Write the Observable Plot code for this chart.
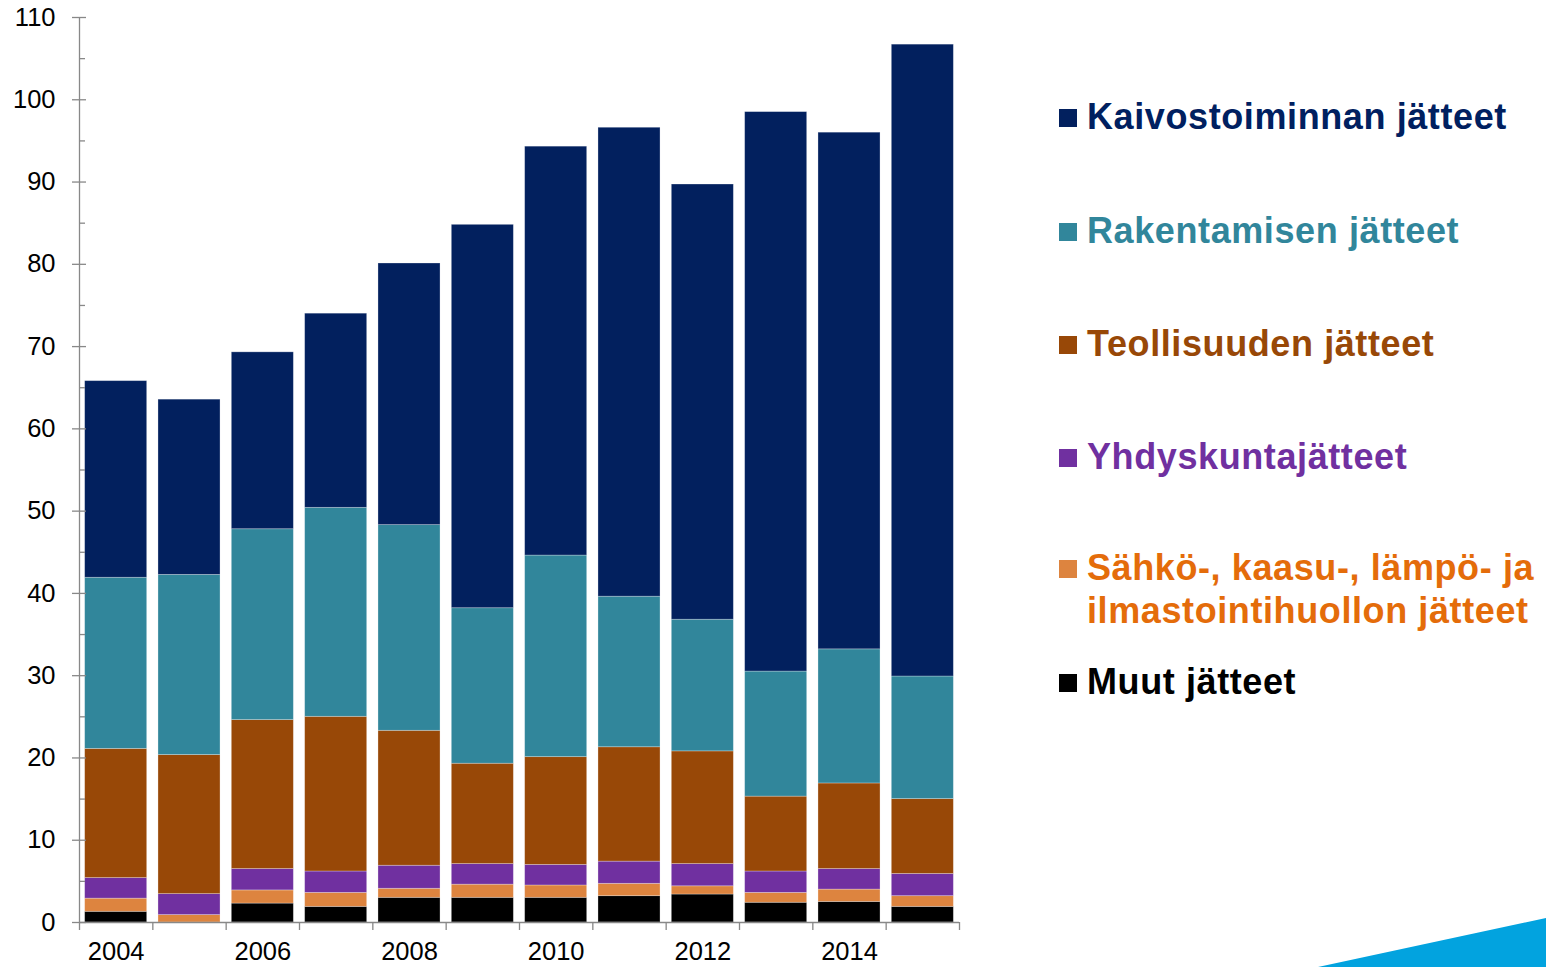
<!DOCTYPE html>
<html>
<head>
<meta charset="utf-8">
<script src="https://cdn.jsdelivr.net/npm/d3@7"></script>
<script src="https://cdn.jsdelivr.net/npm/@observablehq/plot@0.6"></script>
<style>
  html, body { margin: 0; padding: 0; background: #fff; }
  body { width: 1546px; height: 967px; position: relative; overflow: hidden; font-family: "Liberation Sans", Arial, sans-serif; }
  #chart { position: absolute; left: 0; top: 0; }
  .leg { position: absolute; left: 1059px; font-weight: bold; font-size: 36px; letter-spacing: 0.6px; line-height: 35px; white-space: nowrap; }
  .leg .sw { position: absolute; left: 0; width: 18px; height: 18px; }
  .leg .tx { position: absolute; left: 28px; top: 0; }
  #deco { position: absolute; left: 0; top: 0; pointer-events: none; }
</style>
</head>
<body>
<div id="chart"></div>
<div id="legend"></div>
<svg id="deco" width="1546" height="967"><polygon points="1318,967 1546,918 1546,967" fill="#02A3DF"/></svg>
<script>
const years = [2004, 2005, 2006, 2007, 2008, 2009, 2010, 2011, 2012, 2013, 2014, 2015];
const series = [
  "Muut jätteet",
  "Sähkö-, kaasu-, lämpö- ja ilmastointihuollon jätteet",
  "Yhdyskuntajätteet",
  "Teollisuuden jätteet",
  "Rakentamisen jätteet",
  "Kaivostoiminnan jätteet"
];
const muut   = [1.3, 0.0, 2.3, 1.9, 3.0, 3.0, 3.0, 3.2, 3.4, 2.4, 2.5, 1.9];
const sahko  = [1.6, 0.9, 1.6, 1.7, 1.1, 1.6, 1.5, 1.5, 1.0, 1.2, 1.5, 1.3];
const yhdys  = [2.5, 2.55, 2.6, 2.6, 2.8, 2.5, 2.5, 2.7, 2.7, 2.6, 2.5, 2.7];
const teoll  = [15.7, 16.9, 18.1, 18.8, 16.4, 12.2, 13.1, 13.9, 13.7, 9.1, 10.4, 9.1];
const rakent = [20.8, 21.9, 23.2, 25.4, 25.0, 18.9, 24.5, 18.3, 16.0, 15.2, 16.3, 14.9];
const kaivos = [23.9, 21.3, 21.5, 23.6, 31.8, 46.6, 49.7, 57.0, 52.9, 68.0, 62.8, 76.8];
const colors = ["#000000", "#DD843F", "#7030A0", "#984807", "#31869B", "#02205E"];
const legendTextColors = ["#000000", "#E46C0A", "#7030A0", "#984807", "#31869B", "#002060"];
const labelYears = [2004, 2006, 2008, 2010, 2012, 2014];
const majorTicks = d3.range(0, 111, 10);
const minorTicks = d3.range(5, 110, 10);

const valueArrays = [muut, sahko, yhdys, teoll, rakent, kaivos];
const data = [];
years.forEach((yr, i) => {
  series.forEach((s, j) => data.push({year: yr, series: s, value: valueArrays[j][i]}));
});

const halfBar = 0.423;
const boundaries = d3.range(years[0] - 0.5, years[years.length - 1] + 1, 1);
const axisColor = "#888888";

const plot = Plot.plot({
  width: 1000,
  height: 967,
  marginLeft: 79,
  marginRight: 41,
  marginTop: 17,
  marginBottom: 45,
  style: {fontFamily: "'Liberation Sans', Arial, sans-serif", fontSize: "25px", color: "#000", background: "transparent"},
  x: {domain: [years[0] - 0.5, years[years.length - 1] + 0.5], axis: null},
  y: {domain: [0, 110], axis: null},
  color: {domain: series, range: colors},
  marks: [
    Plot.rectY(data, {
      x1: d => d.year - halfBar,
      x2: d => d.year + halfBar,
      y: "value",
      fill: "series",
      stroke: "white",
      strokeOpacity: 0.35,
      strokeWidth: 0.8
    }),
    Plot.ruleX([years[0] - 0.5], {stroke: axisColor, strokeWidth: 1.3}),
    Plot.ruleY([0], {stroke: axisColor, strokeWidth: 1.3}),
    Plot.axisY({ticks: majorTicks, tickSize: 14, dx: 7, tickPadding: 17, stroke: axisColor, strokeWidth: 1.3, fill: "#000", fontSize: 25.5, label: null}),
    Plot.axisY({ticks: minorTicks, tickSize: 6, dx: 6, stroke: axisColor, strokeWidth: 1.3, tickFormat: () => "", label: null}),
    Plot.axisX({ticks: boundaries, tickSize: 8, stroke: axisColor, strokeWidth: 1.3, tickFormat: () => "", label: null}),
    Plot.axisX({ticks: labelYears, tickSize: 0, tickPadding: 19, tickFormat: d => String(d), fill: "#000", fontSize: 25.5, label: null})
  ]
});
document.getElementById("chart").appendChild(plot);

// Legend (HTML, top to bottom)
const legendOrder = [5, 4, 3, 2, 1, 0];
const legendTops = [99, 213, 326, 439, 546, 664];
const legendLines = {
  1: ["Sähkö-, kaasu-, lämpö- ja", "ilmastointihuollon jätteet"]
};
const leg = document.getElementById("legend");
legendOrder.forEach((j, k) => {
  const item = document.createElement("div");
  item.className = "leg";
  item.style.top = legendTops[k] + "px";
  const lh = legendLines[j] ? 43 : 35;
  item.style.lineHeight = lh + "px";
  const sw = document.createElement("div");
  sw.className = "sw";
  sw.style.background = colors[j];
  const baseline = lh === 43 ? 33 : 29;
  sw.style.top = (baseline - 19) + "px";
  const tx = document.createElement("div");
  tx.className = "tx";
  tx.style.color = legendTextColors[j];
  if (legendLines[j]) {
    tx.innerHTML = legendLines[j].join("<br>");
  } else {
    tx.textContent = series[j];
  }
  item.appendChild(sw);
  item.appendChild(tx);
  leg.appendChild(item);
});
</script>
</body>
</html>
